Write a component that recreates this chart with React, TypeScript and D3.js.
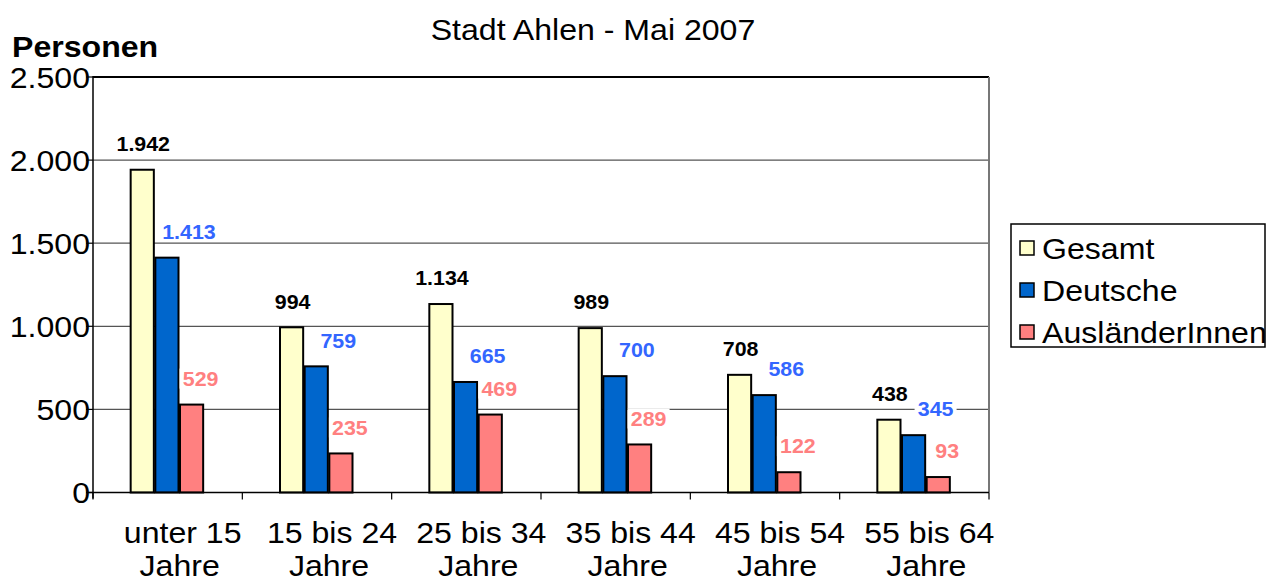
import React from "react";
import * as d3 from "d3";

const categories = [
  ["unter 15", "Jahre"],
  ["15 bis 24", "Jahre"],
  ["25 bis 34", "Jahre"],
  ["35 bis 44", "Jahre"],
  ["45 bis 54", "Jahre"],
  ["55 bis 64", "Jahre"],
];
const seriesNames = ["Gesamt", "Deutsche", "AusländerInnen"];
const gesamt = [1942, 994, 1134, 989, 708, 438];
const deutsche = [1413, 759, 665, 700, 586, 345];
const auslaender = [529, 235, 469, 289, 122, 93];
const yTicks = [0, 500, 1000, 1500, 2000, 2500];

const barColors = ["#FFFFCC", "#0066CC", "#FF8080"];
const labelColors = ["#000000", "#3366FF", "#FF8080"];
const labelDx = [1, 22, 9];

const W = 1267;
const H = 578;
const FONT = "'Liberation Sans', Arial, sans-serif";
const SX = 1.07;

const fmt = (v: number) => {
  const s = String(v);
  return s.length > 3 ? s.slice(0, s.length - 3) + "." + s.slice(-3) : s;
};

function T(props: {
  x: number;
  y: number;
  size: number;
  anchor?: string;
  bold?: boolean;
  fill?: string;
  dy?: string;
  children: React.ReactNode;
}) {
  return (
    <text
      transform={`translate(${props.x},${props.y}) scale(${SX},1)`}
      fontSize={props.size}
      textAnchor={props.anchor || "start"}
      fontWeight={props.bold ? "bold" : "normal"}
      fill={props.fill || "#000"}
      dy={props.dy}
    >
      {props.children}
    </text>
  );
}

export default function App() {
  const left = 93;
  const right = 989;
  const top = 77;
  const bottom = 492.5;

  const x0 = d3
    .scaleBand<number>()
    .domain(categories.map((_, i) => i))
    .range([left, right])
    .padding(0);
  const groupW = 74;
  const x1 = d3
    .scaleBand<number>()
    .domain([0, 1, 2])
    .range([0, groupW])
    .padding(0);
  const y = d3.scaleLinear().domain([0, 2500]).range([bottom, top]);

  const series = [gesamt, deutsche, auslaender];
  const bw = x1.bandwidth() - 1.5;

  return (
    <svg
      width={W}
      height={H}
      style={{ position: "absolute", left: 0, top: 0, background: "#fff" }}
      fontFamily={FONT}
    >
      <rect x={0} y={0} width={W} height={H} fill="#fff" />
      {/* title */}
      <T x={593} y={40} size={30} anchor="middle">
        Stadt Ahlen - Mai 2007
      </T>
      <T x={12} y={57} size={30} bold>
        Personen
      </T>

      {/* gridlines */}
      {yTicks.map((t) => (
        <g key={t}>
          {t > 0 && (
            <line
              x1={left}
              x2={right}
              y1={y(t)}
              y2={y(t)}
              stroke={t === 2500 ? "#000" : "#555"}
              strokeWidth={t === 2500 ? 2 : 1.2}
            />
          )}
          <line x1={left - 7} x2={left} y1={y(t)} y2={y(t)} stroke="#000" strokeWidth={1.2} />
          <T x={90} y={y(t)} dy="0.36em" size={30} anchor="end">
            {fmt(t)}
          </T>
        </g>
      ))}
      {/* right border */}
      <line x1={right} x2={right} y1={top} y2={bottom} stroke="#777" strokeWidth={2} />

      {/* bars */}
      {categories.map((_, ci) => {
        const gx = (x0(ci) as number) + (x0.bandwidth() - groupW) / 2;
        return (
          <g key={ci}>
            {series.map((s, si) => {
              const bx = gx + (x1(si) as number);
              return (
                <rect
                  key={si}
                  x={bx}
                  y={y(s[ci])}
                  width={bw}
                  height={bottom - y(s[ci])}
                  fill={barColors[si]}
                  stroke="#000"
                  strokeWidth={2}
                />
              );
            })}
          </g>
        );
      })}

      {/* labels */}
      {categories.map((_, ci) => {
        const gx = (x0(ci) as number) + (x0.bandwidth() - groupW) / 2;
        return (
          <g key={ci}>
            {series.map((s, si) => {
              const cx = gx + (x1(si) as number) + bw / 2 + labelDx[si];
              const cy = y(s[ci]) - 26;
              const txt = fmt(s[ci]);
              const tw = txt.length * 12 + 6;
              return (
                <g key={si}>
                  <rect x={cx - tw / 2} y={cy - 10} width={tw} height={20} fill="#fff" />
                  <T x={cx} y={cy} dy="0.36em" size={20} bold anchor="middle" fill={labelColors[si]}>
                    {txt}
                  </T>
                </g>
              );
            })}
          </g>
        );
      })}

      {/* axes */}
      <line x1={left} x2={left} y1={top - 1} y2={bottom + 6} stroke="#000" strokeWidth={1.5} />
      <line x1={left - 7} x2={right} y1={bottom} y2={bottom} stroke="#000" strokeWidth={1.5} />
      {categories.map((_, i) => (
        <line
          key={i}
          x1={x0(i) as number}
          x2={x0(i) as number}
          y1={bottom}
          y2={bottom + 7}
          stroke="#000"
          strokeWidth={1.2}
        />
      ))}
      <line x1={right} x2={right} y1={bottom} y2={bottom + 7} stroke="#000" strokeWidth={1.2} />

      {categories.map((c, i) => {
        const cx = (x0(i) as number) + x0.bandwidth() / 2;
        return (
          <g key={i}>
            <T x={cx + 15} y={543} size={30} anchor="middle">
              {c[0]}
            </T>
            <T x={cx + 12} y={576} size={30} anchor="middle">
              {c[1]}
            </T>
          </g>
        );
      })}

      {/* legend */}
      <rect x={1011} y={224} width={254} height={123} fill="#fff" stroke="#000" strokeWidth={1.5} />
      {seriesNames.map((n, i) => {
        const cy = 248 + i * 42;
        return (
          <g key={n}>
            <rect x={1020} y={cy - 7} width={14} height={14} fill={barColors[i]} stroke="#000" strokeWidth={1.5} />
            <T x={1042} y={cy} dy="0.36em" size={30}>
              {n}
            </T>
          </g>
        );
      })}
    </svg>
  );
}
